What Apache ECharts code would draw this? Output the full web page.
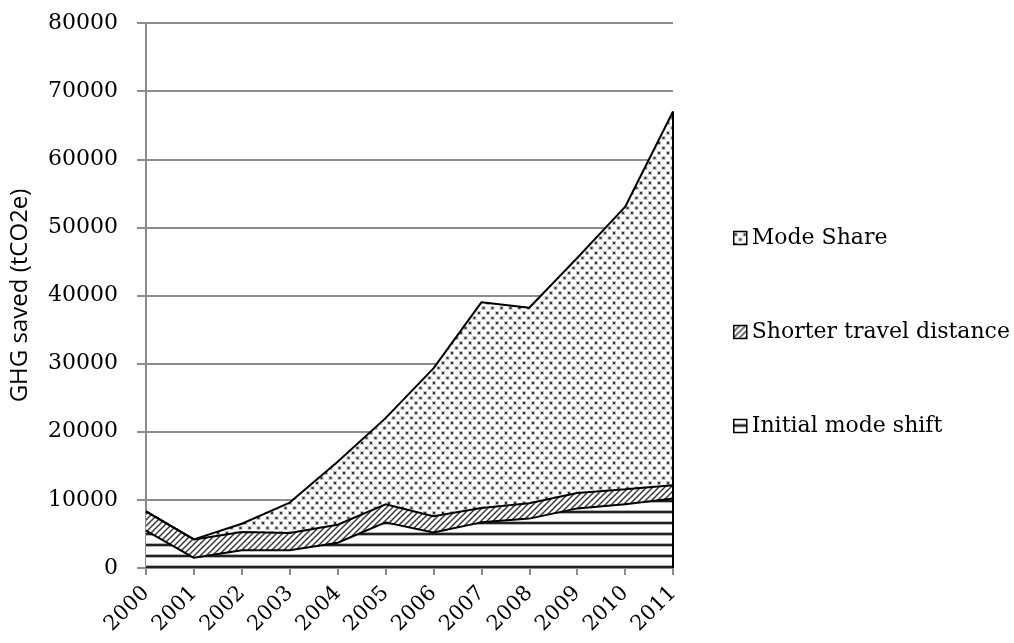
<!DOCTYPE html>
<html>
<head>
<meta charset="utf-8">
<script src="https://cdn.jsdelivr.net/npm/echarts@6/dist/echarts.min.js"></script>
<style>
  html, body { margin: 0; padding: 0; background: #fff; }
  #chart { width: 1014px; height: 643px; }
</style>
</head>
<body>
<div id="chart"></div>
<script>
// Greenhouse gas savings by source, tCO2e
const years = ['2000', '2001', '2002', '2003', '2004', '2005', '2006', '2007', '2008', '2009', '2010', '2011'];
const initialModeShift = [5500, 1500, 2600, 2600, 3700, 6700, 5200, 6700, 7250, 8750, 9350, 10200];
const shorterTravelDistance = [2800, 2700, 2700, 2550, 2650, 2650, 2400, 2100, 2250, 2250, 2200, 1950];
const modeShare = [0, 0, 1200, 4450, 9250, 12650, 21700, 30200, 28700, 34500, 41450, 54850];
const seriesNames = ['Initial mode shift', 'Shorter travel distance', 'Mode Share'];
const yTicks = [0, 10000, 20000, 30000, 40000, 50000, 60000, 70000, 80000];

const serif = "'DejaVu Serif', 'Liberation Serif', serif";

// --- fill patterns -------------------------------------------------------
function tile(w, h, draw) {
  const c = document.createElement('canvas');
  c.width = w; c.height = h;
  const ctx = c.getContext('2d');
  ctx.fillStyle = '#fff';
  ctx.fillRect(0, 0, w, h);
  draw(ctx);
  return { image: c, repeat: 'repeat' };
}

// wide horizontal stripes
const stripePattern = tile(8, 11, ctx => {
  ctx.fillStyle = '#b5b5b5';
  ctx.fillRect(0, 4, 8, 1);
  ctx.fillRect(0, 7, 8, 1);
  ctx.fillStyle = '#222';
  ctx.fillRect(0, 5, 8, 2);
});

// forward diagonal hatch
const hatchPattern = tile(6, 6, ctx => {
  ctx.strokeStyle = '#3a3a3a';
  ctx.lineWidth = 1.5;
  ctx.beginPath();
  ctx.moveTo(-1, 7); ctx.lineTo(7, -1);
  ctx.moveTo(-4, 4); ctx.lineTo(4, -4);
  ctx.moveTo(2, 10); ctx.lineTo(10, 2);
  ctx.stroke();
});

// staggered dots
const dotPattern = tile(9, 10, ctx => {
  const dot = (x, y) => {
    ctx.fillStyle = '#c0c0c0';
    ctx.fillRect(x - 1, y - 1, 4, 4);
    ctx.fillStyle = '#333';
    ctx.fillRect(x, y, 2, 2);
  };
  dot(1, 2);
  dot(5.5, 7);
});

const patterns = [stripePattern, hatchPattern, dotPattern];
const values = [initialModeShift, shorterTravelDistance, modeShare];
const lastTotal = values.reduce((s, arr) => s + arr[arr.length - 1], 0);

const series = seriesNames.map((name, i) => ({
  name,
  type: 'line',
  stack: 'ghg',
  data: values[i],
  symbol: 'none',
  smooth: false,
  lineStyle: { color: '#000', width: 2 },
  itemStyle: { color: '#000' },
  areaStyle: { color: patterns[i], opacity: 1 },
  emphasis: { disabled: true },
  z: 2
}));

// closing edge of the stacked areas at the last year
series[2].markLine = {
  silent: true,
  symbol: 'none',
  label: { show: false },
  lineStyle: { color: '#000', width: 2, type: 'solid' },
  data: [[{ coord: [years[years.length - 1], 0] }, { coord: [years[years.length - 1], lastTotal] }]]
};

const chart = echarts.init(document.getElementById('chart'), null, { renderer: 'canvas' });
chart.setOption({
  animation: false,
  backgroundColor: '#fff',
  grid: { left: 143, right: 341, top: 23, bottom: 75, containLabel: false },
  legend: {
    orient: 'vertical',
    left: 728,
    top: 222,
    icon: 'rect',
    itemWidth: 13,
    itemHeight: 13,
    itemGap: 72,
    selectedMode: false,
    textStyle: { fontFamily: serif, fontSize: 22, color: '#000' },
    data: [
      { name: 'Mode Share', itemStyle: { color: dotPattern, borderColor: '#000', borderWidth: 1.5 } },
      { name: 'Shorter travel distance', itemStyle: { color: hatchPattern, borderColor: '#000', borderWidth: 1.5 } },
      { name: 'Initial mode shift', itemStyle: { color: stripePattern, borderColor: '#000', borderWidth: 1.5 } }
    ]
  },
  xAxis: {
    type: 'category',
    data: years,
    boundaryGap: false,
    axisLine: { lineStyle: { color: '#8c8c8c', width: 2 } },
    axisTick: { show: true, length: 7, alignWithLabel: true, lineStyle: { color: '#8c8c8c', width: 2 } },
    axisLabel: { rotate: 45, margin: 22, fontFamily: serif, fontSize: 21, color: '#000', interval: 0 },
    splitLine: { show: false }
  },
  yAxis: {
    type: 'value',
    min: yTicks[0],
    max: yTicks[yTicks.length - 1],
    interval: yTicks[1] - yTicks[0],
    name: 'GHG saved (tCO2e)',
    nameLocation: 'middle',
    nameGap: 114,
    nameRotate: 90,
    nameTextStyle: { fontFamily: "'Open Sans', 'Lato', sans-serif", fontSize: 24, color: '#000' },
    axisLine: { show: true, lineStyle: { color: '#8c8c8c', width: 2 } },
    axisTick: { show: true, length: 9, lineStyle: { color: '#8c8c8c', width: 2 } },
    axisLabel: { margin: 28, fontFamily: serif, fontSize: 22, color: '#000', formatter: v => String(v) },
    splitLine: { show: true, lineStyle: { color: '#8c8c8c', width: 2 } }
  },
  series
});
</script>
</body>
</html>
